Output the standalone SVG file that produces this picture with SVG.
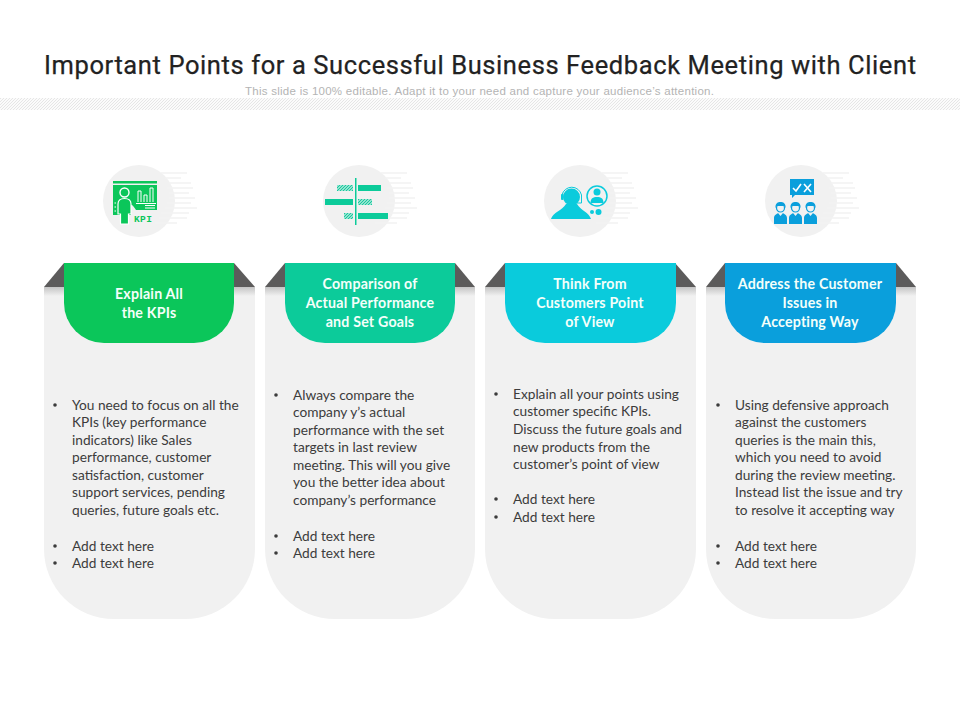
<svg xmlns="http://www.w3.org/2000/svg" xmlns:xlink="http://www.w3.org/1999/xlink" width="960" height="720" viewBox="0 0 960 720">
<style>
.title{font:400 25.500px Roboto,"Liberation Sans",sans-serif;fill:#222;stroke:#222;stroke-width:.25}
.sub{font:11.500px "Liberation Sans",Arial,sans-serif;fill:#b4b4b4;letter-spacing:.26px}
.head{font:700 14.200px Lato,"Liberation Sans",sans-serif;fill:#f4fffa;text-anchor:middle;letter-spacing:.2px}
.body{font:13.700px Lato,"Liberation Sans",sans-serif;fill:#3c3c3c}
.card{fill:#f1f1f1}
.fold{fill:#5c5b5b}
.disc{fill:#f1f1f1}
.sl{stroke:#f2f2f2;stroke-width:1.500;fill:none}
</style>
<defs>
<pattern id="hatch" width="3" height="3" patternUnits="userSpaceOnUse"><rect width="3" height="3" fill="#fbfbfb"/><path d="M-1 1L1 -1M0 3L3 0M2 4L4 2" stroke="#e3e3e3" stroke-width=".9"/></pattern>
<pattern id="h2" width="3" height="3" patternUnits="userSpaceOnUse"><rect width="3" height="3" fill="#c5efe3"/><path d="M-1 1L1 -1M0 3L3 0M2 4L4 2" stroke="#0fc79b" stroke-width="1.100"/></pattern>
<linearGradient id="sh" x1="0" y1="0" x2="0" y2="1"><stop offset="0" stop-color="#c4c4c4"/><stop offset="1" stop-color="#f1f1f1"/></linearGradient>
<g id="speed"><path class="sl" d="M22 -28H48M26 -23H42M30 -18H52M28 -13H54M30 -8H50M30 -3H56M28 2H52M26 7H58M22 12H50M20 17H48M16 22H38"/></g>
<g id="person"><path fill="#0a9fdc" d="M0 22V16C0 13 3 12 4 11L6.500 14L9 11C10 12 13 13 13 16V22Z"/><circle cx="6.500" cy="6" r="4" fill="#f1f1f1" stroke="#0a9fdc" stroke-width="1.200"/><path fill="#0a9fdc" d="M1.500 6C1 1 4 0 6.500 0C9 0 12 1 11.500 6L10 4H3Z"/></g>
</defs>
<text class="title" x="44" y="74" textLength="872" lengthAdjust="spacing">Important Points for a Successful Business Feedback Meeting with Client</text>
<text class="sub" x="245" y="95">This slide is 100% editable. Adapt it to your need and capture your audience’s attention.</text>
<rect x="0" y="98" width="960" height="12" fill="url(#hatch)"/>

<g id="card-1">
<path class="card" d="M44 287H255V549A70 70 0 0 1 185 619H114A70 70 0 0 1 44 549Z"/>
<rect x="44" y="287" width="211" height="9" fill="url(#sh)"/>
<path class="fold" d="M44 287L64 263H234L255 287Z"/>
<path fill="#0bc65a" d="M64 263H234V303A40 40 0 0 1 194 343H104A40 40 0 0 1 64 303Z"/>
<text class="head" x="149" y="299">Explain All</text><text class="head" x="149" y="318">the KPIs</text>
<circle class="disc" cx="139" cy="201" r="36"/><use xlink:href="#speed" href="#speed" x="139" y="201"/>
<path fill="#0bc65a" d="M113 181H157V183.500H113ZM113 185H157V210H136C134 207 133 205 131 205V215H113Z"/>
<path fill="#0bc65a" stroke="#fff" stroke-width="1.200" d="M118 214V204C118 200 121 198.500 124.500 198.500C128 198.500 131 200 131 204V214H128.500V224H120.500V214Z"/>
<circle cx="124.500" cy="192.500" r="4.500" fill="#0bc65a" stroke="#fff" stroke-width="1.400"/>
<path stroke="#fff" stroke-width="1" fill="none" d="M138 202V191H141V202M144 202V195H147V202M150 202V188H153V202M136 203.500H156"/>
<path stroke="#fff" stroke-width="1.200" fill="none" d="M145 205.500H155M145 208H155M114.500 203H116M114.500 207H116M114.500 211H116"/>
<text x="134" y="221.500" font-family="'Liberation Mono',monospace" font-weight="700" font-size="9.500" fill="#0bc65a" letter-spacing=".4">KPI</text>
<g class="body"><circle cx="55" cy="405" r="1.800"/><circle cx="55" cy="546" r="1.800"/><circle cx="55" cy="563" r="1.800"/>
<text x="72" y="410">You need to focus on all the</text><text x="72" y="427">KPIs (key performance</text><text x="72" y="445">indicators) like Sales</text><text x="72" y="462">performance, customer</text><text x="72" y="480">satisfaction, customer</text><text x="72" y="497">support services, pending</text><text x="72" y="515">queries, future goals etc.</text><text x="72" y="551">Add text here</text><text x="72" y="568">Add text here</text></g>
</g>

<g id="card-2">
<path class="card" d="M265 287H475V549A70 70 0 0 1 405 619H335A70 70 0 0 1 265 549Z"/>
<rect x="265" y="287" width="210" height="9" fill="url(#sh)"/>
<path class="fold" d="M265 287L285 263H455L475 287Z"/>
<path fill="#0ccb9a" d="M285 263H455V303A40 40 0 0 1 415 343H325A40 40 0 0 1 285 303Z"/>
<text class="head" x="370" y="289">Comparison of</text><text class="head" x="370" y="308">Actual Performance</text><text class="head" x="370" y="327">and Set Goals</text>
<circle class="disc" cx="359" cy="201" r="36"/><use xlink:href="#speed" href="#speed" x="359" y="201"/>
<rect x="355" y="178" width="1.500" height="47" fill="#0ccb9a"/>
<rect x="358" y="185" width="23" height="6" fill="#0ccb9a"/><rect x="337" y="185" width="16" height="6" fill="url(#h2)"/>
<rect x="325" y="199" width="28" height="6" fill="#0ccb9a"/><rect x="358" y="199" width="14" height="6" fill="url(#h2)"/>
<rect x="358" y="213" width="30" height="6" fill="#0ccb9a"/><rect x="344" y="213" width="9" height="6" fill="url(#h2)"/>
<g class="body"><circle cx="276" cy="395" r="1.800"/><circle cx="276" cy="536" r="1.800"/><circle cx="276" cy="553" r="1.800"/>
<text x="293" y="400">Always compare the</text><text x="293" y="417">company y’s actual</text><text x="293" y="435">performance with the set</text><text x="293" y="452">targets in last review</text><text x="293" y="470">meeting. This will you give</text><text x="293" y="487">you the better idea about</text><text x="293" y="505">company’s performance</text><text x="293" y="541">Add text here</text><text x="293" y="558">Add text here</text></g>
</g>

<g id="card-3">
<path class="card" d="M485 287H696V549A70 70 0 0 1 626 619H555A70 70 0 0 1 485 549Z"/>
<rect x="485" y="287" width="211" height="9" fill="url(#sh)"/>
<path class="fold" d="M485 287L505 263H675L696 287Z"/>
<path fill="#0acbdc" d="M505 263H676V303A40 40 0 0 1 636 343H545A40 40 0 0 1 505 303Z"/>
<text class="head" x="590" y="289">Think From</text><text class="head" x="590" y="308">Customers Point</text><text class="head" x="590" y="327">of View</text>
<circle class="disc" cx="580" cy="201" r="36"/><use xlink:href="#speed" href="#speed" x="580" y="201"/>
<path fill="#0acbdc" d="M551 219C553 212 562 211 566 204H577C581 211 589 212 591 219Z"/>
<circle cx="571.500" cy="197" r="8.500" fill="#0acbdc"/>
<path d="M562 199V195A10 10 0 0 1 581.500 195V203H576" fill="none" stroke="#0acbdc" stroke-width="1"/>
<rect x="561" y="194" width="2.500" height="6" rx="1" fill="#0acbdc"/>
<circle cx="597" cy="196" r="10" fill="#f1f1f1" stroke="#0acbdc" stroke-width="1.500"/>
<circle cx="597" cy="192" r="3.500" fill="#0acbdc"/>
<path fill="#0acbdc" d="M590.500 203C590.500 198.500 593 197 597 197C601 197 603.500 198.500 603.500 203Z"/>
<circle cx="592" cy="212" r="2" fill="#0acbdc"/><circle cx="598.500" cy="212" r="3" fill="#0acbdc"/>
<g class="body"><circle cx="496" cy="394" r="1.800"/><circle cx="496" cy="499" r="1.800"/><circle cx="496" cy="517" r="1.800"/>
<text x="513" y="399">Explain all your points using</text><text x="513" y="416">customer specific KPIs.</text><text x="513" y="434">Discuss the future goals and</text><text x="513" y="452">new products from the</text><text x="513" y="469">customer’s point of view</text><text x="513" y="504">Add text here</text><text x="513" y="522">Add text here</text></g>
</g>

<g id="card-4">
<path class="card" d="M706 287H916V549A70 70 0 0 1 846 619H776A70 70 0 0 1 706 549Z"/>
<rect x="706" y="287" width="210" height="9" fill="url(#sh)"/>
<path class="fold" d="M706 287L725 263H896L916 287Z"/>
<path fill="#0a9fdc" d="M725 263H896V303A40 40 0 0 1 856 343H765A40 40 0 0 1 725 303Z"/>
<text class="head" x="810" y="289">Address the Customer</text><text class="head" x="810" y="308">Issues in</text><text class="head" x="810" y="327">Accepting Way</text>
<circle class="disc" cx="801" cy="201" r="36"/><use xlink:href="#speed" href="#speed" x="801" y="201"/>
<path fill="#0a9fdc" d="M790 179H814V195H795L792 198V195H790Z"/>
<path fill="none" stroke="#fff" stroke-width="1.600" d="M793 188L796 191L801 184M804 184L811 192M811 184L804 192"/>
<use xlink:href="#person" href="#person" x="774" y="202"/>
<use xlink:href="#person" href="#person" x="789" y="202"/>
<use xlink:href="#person" href="#person" x="804" y="202"/>
<g class="body"><circle cx="718" cy="405" r="1.800"/><circle cx="718" cy="546" r="1.800"/><circle cx="718" cy="563" r="1.800"/>
<text x="735" y="410">Using defensive approach</text><text x="735" y="427">against the customers</text><text x="735" y="445">queries is the main this,</text><text x="735" y="462">which you need to avoid</text><text x="735" y="480">during the review meeting.</text><text x="735" y="497">Instead list the issue and try</text><text x="735" y="515">to resolve it accepting way</text><text x="735" y="551">Add text here</text><text x="735" y="568">Add text here</text></g>
</g>
</svg>
